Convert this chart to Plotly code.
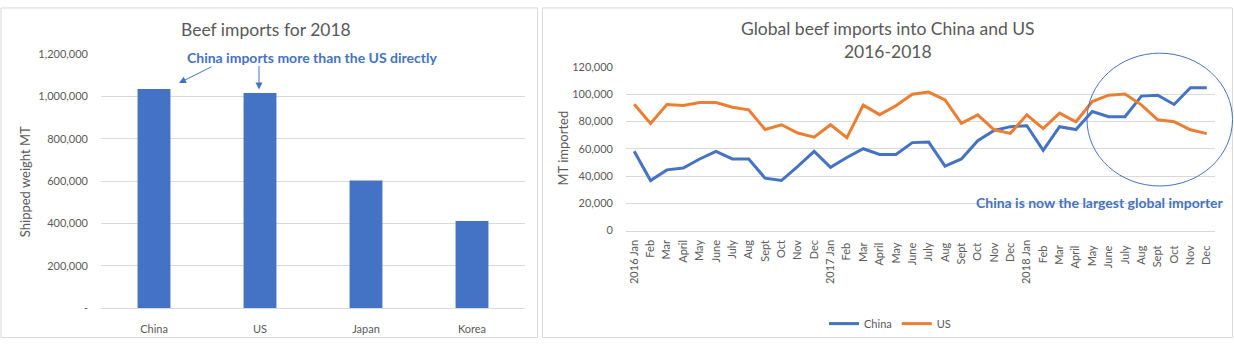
import plotly.graph_objects as go

W, H = 1234, 345

# ---------------- data ----------------
countries = ["China", "US", "Japan", "Korea"]
imports_2018 = [1035000, 1017000, 603000, 412000]

bar_ticks = [0, 200000, 400000, 600000, 800000, 1000000, 1200000]
bar_tick_text = ["-", "200,000", "400,000", "600,000", "800,000", "1,000,000", "1,200,000"]

months = ["2016 Jan", "Feb", "Mar", "April", "May", "June", "July", "Aug", "Sept", "Oct", "Nov", "Dec",
          "2017 Jan", "Feb ", "Mar ", "April ", "May ", "June ", "July ", "Aug ", "Sept ", "Oct ", "Nov ", "Dec ",
          "2018 Jan", "Feb  ", "Mar  ", "April  ", "May  ", "June  ", "July  ", "Aug  ", "Sept  ", "Oct  ", "Nov  ", "Dec  "]

china_monthly = [58100, 36700, 44500, 45900, 52500, 58100, 52500, 52500, 38400, 36700, 47100, 58100,
                 46400, 53600, 60000, 55800, 55800, 64500, 64900, 47300, 52500, 65900, 73400, 76200,
                 76900, 58800, 76200, 74100, 87300, 83500, 83500, 98600, 99300, 92500, 104700, 104700]
us_monthly = [92700, 78600, 92500, 91800, 93900, 93900, 90400, 88500, 74100, 77600, 71500, 68500,
              77600, 68200, 92000, 85000, 91500, 100000, 101600, 95800, 78600, 84900, 73900, 71300,
              84900, 74800, 86100, 79800, 94600, 99300, 100200, 92200, 81200, 79800, 73900, 71100]

line_ticks = [0, 20000, 40000, 60000, 80000, 100000, 120000]
line_tick_text = ["0", "20,000", "40,000", "60,000", "80,000", "100,000", "120,000"]

# ---------------- style ----------------
FONT = "Lato"
GREY = "#595959"
GRID = "#D9D9D9"
BLUE = "#4472C4"
ORANGE = "#ED7D31"


def px(x):
    return x / W


def py(y):
    return 1 - y / H


fig = go.Figure()

fig.add_trace(go.Bar(x=countries, y=imports_2018, marker=dict(color=BLUE, line=dict(width=0)),
                     showlegend=False, xaxis="x", yaxis="y", hoverinfo="x+y"))

fig.add_trace(go.Scatter(x=months, y=china_monthly, mode="lines", name="China",
                         line=dict(color=BLUE, width=3), xaxis="x2", yaxis="y2"))
fig.add_trace(go.Scatter(x=months, y=us_monthly, mode="lines", name="US",
                         line=dict(color=ORANGE, width=3), xaxis="x2", yaxis="y2"))

tickfont = dict(family=FONT, size=11, color=GREY)

fig.update_layout(
    width=W, height=H,
    margin=dict(l=0, r=0, t=0, b=0),
    paper_bgcolor="white", plot_bgcolor="white",
    font=dict(family=FONT, color=GREY),
    bargap=0.69,
    xaxis=dict(domain=[px(101), px(525)], anchor="y", type="category", range=[-0.5, 3.5],
               showgrid=False, showline=True, linecolor=GRID, linewidth=1, ticks="",
               tickfont=tickfont, ticklabelstandoff=11, fixedrange=True),
    yaxis=dict(domain=[py(313), py(49)], anchor="x", range=[0, 1200000],
               tickvals=bar_ticks, ticktext=bar_tick_text, showgrid=True, gridcolor=GRID,
               gridwidth=1, zeroline=False, showline=False, ticks="", tickfont=tickfont,
               ticklabelstandoff=12, fixedrange=True),
    xaxis2=dict(domain=[px(626), px(1215)], anchor="y2", type="category", range=[-0.5, 35.5],
                showgrid=False, showline=True, linecolor=GRID, linewidth=1, ticks="",
                tickangle=-90, tickfont=tickfont, ticklabelstandoff=4, fixedrange=True),
    yaxis2=dict(domain=[py(232.3), py(62.3)], anchor="x2", range=[0, 120000],
                tickvals=line_ticks, ticktext=line_tick_text, showgrid=True, gridcolor=GRID,
                gridwidth=1, zeroline=False, showline=False, ticks="", tickfont=tickfont,
                ticklabelstandoff=12, fixedrange=True),
    legend=dict(orientation="h", x=px(890), xanchor="center", y=py(329), yanchor="middle",
                font=dict(family=FONT, size=11, color=GREY), bgcolor="rgba(0,0,0,0)",
                itemwidth=30, tracegroupgap=0),
    shapes=[
        dict(type="rect", xref="paper", yref="paper", x0=px(1), x1=px(537.5), y0=py(343.5), y1=py(1),
             line=dict(color=GRID, width=1), layer="below"),
        dict(type="rect", xref="paper", yref="paper", x0=px(542.5), x1=px(1232.5), y0=py(343.5), y1=py(1),
             line=dict(color=GRID, width=1), layer="below"),
        dict(type="circle", xref="paper", yref="paper", x0=px(1087), x1=px(1232.5), y0=py(186), y1=py(48),
             line=dict(color=BLUE, width=1), layer="above"),
    ],
    annotations=[
        dict(text="Beef imports for 2018", xref="paper", yref="paper", x=px(266), y=py(23),
             xanchor="center", yanchor="middle", showarrow=False,
             font=dict(family=FONT, size=17.5, color=GREY)),
        dict(text="Global beef imports into China and US<br>2016-2018", xref="paper", yref="paper",
             x=px(888), y=py(34), xanchor="center", yanchor="middle", showarrow=False,
             font=dict(family=FONT, size=17.5, color=GREY)),
        dict(text="Shipped weight MT", xref="paper", yref="paper", x=px(25), y=py(182),
             xanchor="center", yanchor="middle", textangle=-90, showarrow=False,
             font=dict(family=FONT, size=13, color=GREY)),
        dict(text="MT imported", xref="paper", yref="paper", x=px(563), y=py(147),
             xanchor="center", yanchor="middle", textangle=-90, showarrow=False,
             font=dict(family=FONT, size=13, color=GREY)),
        dict(text="<b>China imports more than the US directly</b>", xref="paper", yref="paper",
             x=px(312), y=py(52.5), xanchor="center", yanchor="middle", showarrow=False,
             font=dict(family=FONT, size=14, color=BLUE)),
        dict(text="<b>China is now the largest global importer</b>", xref="paper", yref="paper",
             x=px(1100), y=py(203), xanchor="center", yanchor="middle", showarrow=False,
             font=dict(family=FONT, size=14, color=BLUE)),
        dict(text="", xref="paper", yref="paper", x=px(179), y=py(79), ax=34, ay=-17,
             showarrow=True, arrowhead=2, arrowsize=1.4, arrowwidth=1, arrowcolor=BLUE),
        dict(text="", xref="paper", yref="paper", x=px(259), y=py(85.7), ax=0, ay=-25,
             showarrow=True, arrowhead=2, arrowsize=1.4, arrowwidth=1, arrowcolor=BLUE),
    ],
)

fig.write_html("out.html")
